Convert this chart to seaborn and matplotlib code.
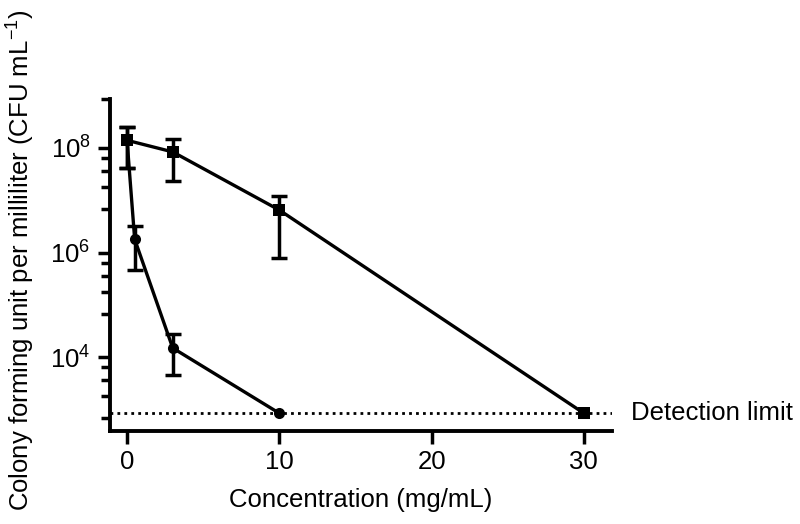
import numpy as np
import pandas as pd
import matplotlib
matplotlib.use("Agg")
import matplotlib.pyplot as plt
import seaborn as sns
from matplotlib.ticker import FixedLocator, NullFormatter

# datos (CFU/mL)
conc_a = [0, 3, 10, 30]
cfu_a = [1.4e8, 8.4e7, 6.5e6, 850]
err_hi_a = [2.5e8, 1.5e8, 1.2e7, 850]
err_lo_a = [4.2e7, 2.3e7, 8.0e5, 850]

conc_b = [0, 0.5, 3, 10]
cfu_b = [1.4e8, 1.8e6, 1.5e4, 850]
err_hi_b = [2.5e8, 3.2e6, 2.8e4, 850]
err_lo_b = [4.2e7, 4.7e5, 4.6e3, 850]

detection_limit = 850
x_ticks = [0, 10, 20, 30]
y_major = [1e4, 1e6, 1e8]
y_labels = ['$10^{4}$', '$10^{6}$', '$10^{8}$']

sns.set_style("ticks")
plt.rcParams['font.family'] = ['Liberation Sans', 'DejaVu Sans']
plt.rcParams['mathtext.fontset'] = 'custom'
plt.rcParams['mathtext.rm'] = 'Liberation Sans'
plt.rcParams['mathtext.it'] = 'Liberation Sans:italic'
plt.rcParams['text.color'] = 'black'
plt.rcParams['axes.labelcolor'] = 'black'

df = pd.concat([
    pd.DataFrame({'conc': conc_a, 'cfu': cfu_a, 'serie': 'A'}),
    pd.DataFrame({'conc': conc_b, 'cfu': cfu_b, 'serie': 'B'}),
])

fig = plt.figure(figsize=(8, 5.24), dpi=100)
ax = fig.add_axes([0.1375, 0.1775, 0.6275, 0.634])

ax.axhline(detection_limit, color='black', lw=2, ls=(0, (1, 1.5)), zorder=0)

sns.lineplot(data=df, x='conc', y='cfu', hue='serie', style='serie',
             markers={'A': 's', 'B': 'o'}, dashes=False,
             palette={'A': 'black', 'B': 'black'}, estimator=None, sort=False,
             lw=2.4, markersize=8, markeredgewidth=0, legend=False, ax=ax)

# barras de error (solo donde hay rango)
for xs, ys, hi, lo in [(conc_a, cfu_a, err_hi_a, err_lo_a), (conc_b, cfu_b, err_hi_b, err_lo_b)]:
    xs, ys, hi, lo = map(np.array, (xs, ys, hi, lo))
    m = hi > lo
    ax.errorbar(xs[m], ys[m], yerr=[ys[m] - lo[m], hi[m] - ys[m]], fmt='none',
                ecolor='black', elinewidth=2.5, capsize=6, capthick=2.5)

ax.set_yscale('log')
ax.set_xlim(-1.12, 31.85)
ax.set_ylim(10 ** 2.59, 10 ** 8.94)

ax.set_xticks(x_ticks)
ax.yaxis.set_major_locator(FixedLocator(y_major))
ax.set_yticklabels(y_labels)
minor = [10 ** (np.log10(v) - d) for v in y_major for d in [0.19, 0.44, 0.75, 1.17]]
minor.append(10 ** 8.94)
ax.yaxis.set_minor_locator(FixedLocator(minor))
ax.yaxis.set_minor_formatter(NullFormatter())

for s in ['top', 'right']:
    ax.spines[s].set_visible(False)
for s in ['left', 'bottom']:
    ax.spines[s].set_linewidth(2.8)
    ax.spines[s].set_color('black')
ax.tick_params(axis='both', which='major', length=9, width=2.5, labelsize=18.5,
               colors='black', pad=5)
ax.tick_params(axis='y', which='minor', length=6.5, width=2.5, colors='black')

ax.text(33.1, detection_limit, 'Detection limit', va='center', ha='left',
        fontsize=18.5, clip_on=False)

ax.set_xlabel('Concentration (mg/mL)', fontsize=18.5, labelpad=10)
ax.set_ylabel('Colony forming unit per milliliter (CFU mL$^{-1}$)', fontsize=18.5)
ax.yaxis.set_label_coords(-0.145, 0.515)

fig.savefig('out.png', dpi=100)
